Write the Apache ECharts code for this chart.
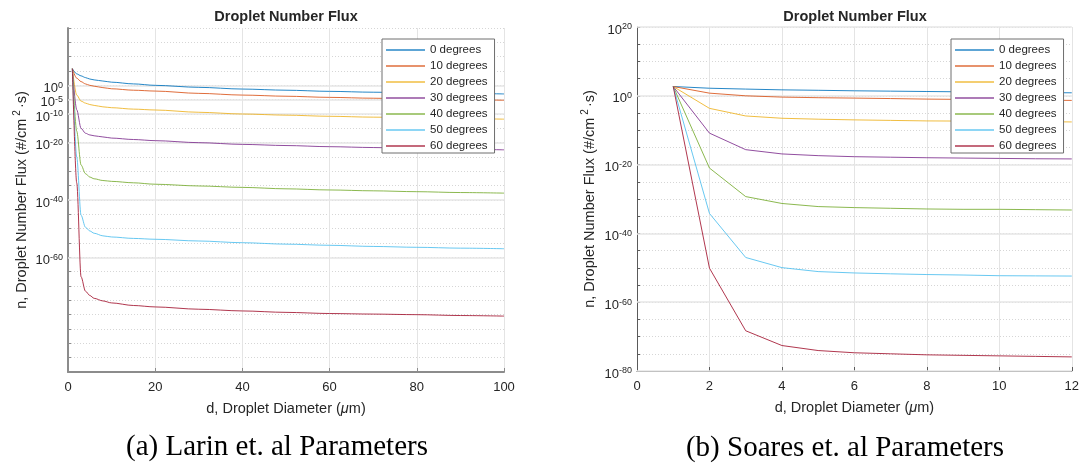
<!DOCTYPE html>
<html>
<head>
<meta charset="utf-8">
<script src="https://cdn.jsdelivr.net/npm/echarts@6/dist/echarts.min.js"></script>
<style>
  html, body { margin: 0; padding: 0; background: #ffffff; }
  #chart { width: 1082px; height: 466px; }
</style>
</head>
<body>
<div id="chart"></div>
<script>
// Contact-angle series names (shared by both panels)
const angleNames = ['0 degrees', '10 degrees', '20 degrees', '30 degrees', '40 degrees', '50 degrees', '60 degrees'];
const angleColors = ['#0072BD', '#D95319', '#EDB120', '#7E2F8E', '#77AC30', '#4DBEEE', '#A2142F'];

// Panel (a): Larin et al. parameters. Diameter in um, flux given as log10(#/cm^2·s)
const larinDiameter = [1, 2, 3, 4, 5, 6, 8, 10, 15, 20, 30, 40, 50, 60, 70, 80, 90, 100];
const larinLog0  = [5.8, 4.0, 3.3, 2.7, 2.2, 1.9, 1.5, 1.1, 0.5, 0.0, -0.7, -1.3, -1.7, -2.1, -2.4, -2.6, -2.8, -3.0];
const larinLog10 = [5.8, 2.5, 1.3, 0.5, 0.0, -0.3, -0.8, -1.2, -1.7, -2.0, -2.8, -3.4, -3.8, -4.2, -4.5, -4.8, -5.0, -5.2];
const larinLog20 = [5.8, -3.4, -5.5, -6.2, -6.7, -7.0, -7.5, -7.8, -8.3, -8.6, -9.4, -10.0, -10.4, -10.8, -11.1, -11.3, -11.6, -11.8];
const larinLog30 = [5.8, -8.5, -15.0, -16.7, -17.3, -17.6, -18.0, -18.4, -18.9, -19.3, -20.0, -20.6, -21.0, -21.4, -21.7, -22.0, -22.3, -22.5];
const larinLog40 = [5.8, -16.0, -27.8, -30.8, -32.0, -32.6, -33.2, -33.5, -34.0, -34.5, -35.1, -35.6, -36.1, -36.5, -36.8, -37.1, -37.4, -37.6];
const larinLog50 = [5.8, -25.0, -45.3, -49.5, -50.8, -51.6, -52.5, -52.9, -53.4, -53.7, -54.3, -54.9, -55.4, -55.8, -56.2, -56.5, -56.8, -57.0];
const larinLog60 = [5.8, -34.0, -66.8, -71.8, -73.3, -74.3, -75.2, -75.9, -76.8, -77.3, -78.1, -78.7, -79.2, -79.6, -79.8, -80.0, -80.3, -80.5];

// Panel (b): Soares et al. parameters
const soaresDiameter = [1, 2, 3, 4, 5, 6, 7, 8, 9, 10, 11, 12];
const soaresLog0  = [2.7, 2.2, 1.95, 1.73, 1.6, 1.45, 1.35, 1.25, 1.15, 1.06, 0.95, 0.87];
const soaresLog10 = [2.7, 0.77, 0.0, -0.38, -0.55, -0.67, -0.8, -0.96, -1.05, -1.15, -1.25, -1.34];
const soaresLog20 = [2.7, -3.65, -5.86, -6.53, -6.8, -7.0, -7.15, -7.3, -7.35, -7.4, -7.5, -7.6];
const soaresLog30 = [2.7, -10.85, -15.66, -16.9, -17.4, -17.7, -17.85, -18.0, -18.1, -18.2, -18.3, -18.35];
const soaresLog40 = [2.7, -21.0, -29.3, -31.3, -32.2, -32.5, -32.7, -32.9, -33.0, -33.0, -33.1, -33.2];
const soaresLog50 = [2.7, -34.2, -47.0, -49.95, -51.1, -51.5, -51.75, -51.96, -52.1, -52.3, -52.35, -52.4];
const soaresLog60 = [2.7, -50.1, -68.3, -72.6, -74.05, -74.7, -75.0, -75.3, -75.45, -75.6, -75.75, -75.9];

// Labelled decades (exponents) on each y axis
const larinYTicks = [0, -5, -10, -20, -40, -60];
const soaresYTicks = [20, 0, -20, -40, -60, -80];

const larinSeriesLogs = [larinLog0, larinLog10, larinLog20, larinLog30, larinLog40, larinLog50, larinLog60];
const soaresSeriesLogs = [soaresLog0, soaresLog10, soaresLog20, soaresLog30, soaresLog40, soaresLog50, soaresLog60];

const SANS = '"Liberation Sans", Arial, Helvetica, sans-serif';
const SERIF = '"Liberation Serif", "Times New Roman", serif';
const TEXT = '#262626';

function pairs(xs, ys) { return xs.map((x, i) => [x, ys[i]]); }

function powerLabel(ticks) {
  return function (v) {
    return ticks.indexOf(v) >= 0 ? '{b|10}{s|' + v + '}' : '';
  };
}

const powerRich = {
  b: { fontSize: 13, lineHeight: 14, verticalAlign: 'bottom', fontFamily: SANS, color: TEXT },
  s: { fontSize: 9, lineHeight: 7, verticalAlign: 'top', fontFamily: SANS, color: TEXT }
};

const yNameRich = {
  a: { fontSize: 14.5, lineHeight: 17, verticalAlign: 'bottom', fontFamily: SANS, color: TEXT },
  s: { fontSize: 10, lineHeight: 9, verticalAlign: 'top', fontFamily: SANS, color: TEXT, padding: [0, 2, 0, 3] }
};
const xNameRich = {
  a: { fontSize: 14.5, lineHeight: 17, fontFamily: SANS, color: TEXT },
  m: { fontSize: 14.5, lineHeight: 17, fontFamily: SANS, fontStyle: 'italic', color: TEXT }
};

function makeXAxis(gridIndex, max, interval, axisColor, axisWidth) {
  return {
    type: 'value', gridIndex: gridIndex, min: 0, max: max, interval: interval,
    axisLine: { show: true, onZero: false, lineStyle: { color: axisColor, width: axisWidth } },
    axisTick: { show: true, inside: true, length: 4, lineStyle: { color: axisColor } },
    axisLabel: { margin: 9, fontSize: 13, fontFamily: SANS, color: TEXT },
    splitLine: { show: true, lineStyle: { color: '#e4e4e4', width: 1 } },
    name: '{a|d, Droplet Diameter (}{m|\u03bc}{a|m)}',
    nameLocation: 'middle', nameGap: 28,
    nameTextStyle: { rich: xNameRich }
  };
}

function makeYAxis(gridIndex, min, max, ticks, axisColor, axisWidth, nameGap) {
  return {
    type: 'value', gridIndex: gridIndex, min: min, max: max, interval: 5,
    axisLine: { show: true, onZero: false, lineStyle: { color: axisColor, width: axisWidth } },
    axisTick: { show: true, inside: true, length: 3, lineStyle: { color: axisColor } },
    axisLabel: { margin: 5, formatter: powerLabel(ticks), rich: powerRich, padding: [5, 0, 0, 0] },
    splitLine: { show: true, lineStyle: { color: '#d6d6d6', width: 1, type: [1, 2] } },
    name: '{a|n, Droplet Number Flux (#/cm}{s|2}{a|\u00b7s)}',
    nameLocation: 'middle', nameGap: nameGap,
    nameTextStyle: { rich: yNameRich }
  };
}

// Solid gridlines at the labelled decades, kept beneath the curves and legends
function majorGrid(xi, yi, ticks) {
  return {
    type: 'line', name: '__grid' + xi, data: [], xAxisIndex: xi, yAxisIndex: yi, z: 1,
    silent: true, symbol: 'none',
    markLine: {
      z: 1, silent: true, symbol: 'none', animation: false,
      label: { show: false },
      lineStyle: { color: '#e6e6e6', type: 'solid', width: 1.5 },
      emphasis: { disabled: true },
      data: ticks.map(t => ({ yAxis: t }))
    }
  };
}

function legendFor(left) {
  return {
    data: angleNames.map(n => ({ name: n, icon: 'rect' })),
    orient: 'vertical', left: left, top: 39, z: 10,
    itemWidth: 39, itemHeight: 1.3, itemGap: 4, itemTextGap: 4,
    padding: [5, 7, 1, 4],
    borderColor: '#6e6e6e', borderWidth: 1, backgroundColor: '#ffffff',
    textStyle: { fontSize: 11.5, lineHeight: 12, fontFamily: SANS, color: TEXT },
    selectedMode: false
  };
}

const LINE_OPACITY = 0.85;
const series = [majorGrid(0, 0, larinYTicks), majorGrid(1, 1, soaresYTicks)];
angleNames.forEach((name, i) => {
  series.push({
    type: 'line', name: name, xAxisIndex: 0, yAxisIndex: 0, z: 3,
    data: pairs(larinDiameter, larinSeriesLogs[i]),
    symbol: 'none', showSymbol: false, smooth: 0.3, smoothMonotone: 'x',
    lineStyle: { color: angleColors[i], width: 1, opacity: LINE_OPACITY },
    itemStyle: { color: angleColors[i], opacity: LINE_OPACITY },
    emphasis: { disabled: true }
  });
});
angleNames.forEach((name, i) => {
  series.push({
    type: 'line', name: name, xAxisIndex: 1, yAxisIndex: 1, z: 3,
    data: pairs(soaresDiameter, soaresSeriesLogs[i]),
    symbol: 'none', showSymbol: false,
    lineStyle: { color: angleColors[i], width: 1, opacity: LINE_OPACITY },
    itemStyle: { color: angleColors[i], opacity: LINE_OPACITY },
    emphasis: { disabled: true }
  });
});

const chart = echarts.init(document.getElementById('chart'), null, { renderer: 'canvas' });
chart.setOption({
  animation: false,
  backgroundColor: '#ffffff',
  grid: [
    { left: 68, top: 28, width: 436, height: 344 },
    { left: 637, top: 27, width: 436, height: 344 }
  ],
  xAxis: [makeXAxis(0, 100, 20, '#8c8c8c', 2), makeXAxis(1, 12, 2, '#5a5a5a', 1)],
  yAxis: [
    makeYAxis(0, -100, 20, larinYTicks, '#8c8c8c', 2, 39),
    makeYAxis(1, -80, 20, soaresYTicks, '#5a5a5a', 1, 40)
  ],
  legend: [legendFor(382), legendFor(951)],
  graphic: [
    { type: 'text', x: 286, y: 17, silent: true,
      style: { text: 'Droplet Number Flux', align: 'center', verticalAlign: 'middle', fontSize: 14.5, fontWeight: 'bold', fontFamily: SANS, fill: TEXT } },
    { type: 'text', x: 855, y: 17, silent: true,
      style: { text: 'Droplet Number Flux', align: 'center', verticalAlign: 'middle', fontSize: 14.5, fontWeight: 'bold', fontFamily: SANS, fill: TEXT } },
    { type: 'text', x: 277, y: 447, silent: true,
      style: { text: '(a) Larin et. al Parameters', align: 'center', verticalAlign: 'middle', fontSize: 29, fontFamily: SERIF, fill: '#000000' } },
    { type: 'text', x: 845, y: 448, silent: true,
      style: { text: '(b) Soares et. al Parameters', align: 'center', verticalAlign: 'middle', fontSize: 29, fontFamily: SERIF, fill: '#000000' } }
  ],
  series: series
});
</script>
</body>
</html>
